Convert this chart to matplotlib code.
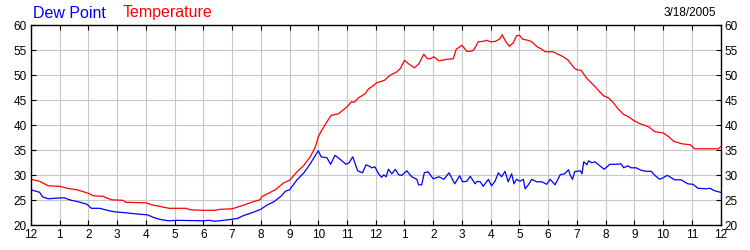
import matplotlib
matplotlib.use('Agg')
import matplotlib.pyplot as plt

plt.rcParams['font.family'] = ['Liberation Sans', 'DejaVu Sans']

# hours after midnight and temperature readings (F)
temp_hours = [0.0, 0.3, 0.6, 1.0, 1.26, 1.6, 2.0, 2.17, 2.5, 2.8, 3.2, 3.3, 4.0, 4.2,
              4.55, 4.8, 5.4, 5.55, 6.0, 6.4, 6.6, 7.0, 7.38, 7.73, 7.97, 8.05, 8.2,
              8.5, 8.8, 9.0, 9.26, 9.5, 9.72, 9.9, 10.0, 10.1, 10.3, 10.45, 10.7, 11.0,
              11.15, 11.25, 11.4, 11.63, 11.75, 11.86, 12.03, 12.3, 12.5, 12.73, 12.85,
              13.0, 13.14, 13.35, 13.5, 13.67, 13.8, 13.9, 14.02, 14.2, 14.48, 14.7,
              14.8, 15.0, 15.17, 15.3, 15.4, 15.57, 15.74, 15.86, 16.0, 16.17, 16.32,
              16.4, 16.52, 16.65, 16.79, 16.9, 17.0, 17.12, 17.3, 17.43, 17.62, 17.78,
              17.9, 18.17, 18.35, 18.53, 18.7, 18.9, 19.0, 19.15, 19.33, 19.62, 19.8,
              19.93, 20.1, 20.27, 20.45, 20.62, 20.8, 20.97, 21.2, 21.5, 21.72, 22.0,
              22.2, 22.37, 22.66, 22.95, 23.1, 23.45, 23.93, 24.0]
temp_values = [29.2, 28.8, 27.9, 27.8, 27.4, 27.1, 26.4, 25.9, 25.8, 25.1, 25.0, 24.6,
               24.5, 24.1, 23.7, 23.4, 23.4, 23.1, 23.0, 23.0, 23.2, 23.3, 24.0, 24.7,
               25.1, 25.8, 26.2, 27.1, 28.5, 29.0, 30.7, 32.0, 33.7, 35.7, 37.7, 38.8,
               40.7, 42.0, 42.3, 43.7, 44.7, 44.6, 45.5, 46.3, 47.3, 47.7, 48.5, 49.0,
               50.0, 50.7, 51.3, 53.0, 52.3, 51.5, 52.3, 54.2, 53.3, 53.3, 53.7, 52.9,
               53.2, 53.3, 55.2, 56.0, 54.8, 54.8, 55.0, 56.7, 56.8, 57.0, 56.7, 56.8,
               57.3, 58.1, 56.8, 55.8, 56.5, 57.9, 58.0, 57.2, 57.0, 56.7, 55.7, 55.2,
               54.7, 54.7, 54.2, 53.7, 53.0, 51.5, 51.1, 51.0, 49.5, 47.8, 46.7, 45.9,
               45.5, 44.5, 43.2, 42.2, 41.7, 41.0, 40.3, 39.7, 38.7, 38.5, 37.7, 36.8,
               36.3, 36.1, 35.3, 35.3, 35.3, 35.7]

# hours after midnight and dew point readings (F)
dew_hours = [0.0, 0.3, 0.4, 0.6, 0.8, 1.15, 1.4, 1.65, 1.95, 2.1, 2.4, 2.65, 2.9, 3.3,
             3.8, 4.05, 4.3, 4.55, 4.8, 5.05, 5.97, 6.2, 6.4, 7.0, 7.2, 7.38, 7.73, 8.0,
             8.2, 8.45, 8.7, 8.85, 9.0, 9.26, 9.5, 9.72, 9.9, 10.0, 10.1, 10.3, 10.43,
             10.58, 10.78, 10.96, 11.07, 11.2, 11.37, 11.54, 11.66, 11.78, 11.86, 11.97,
             12.1, 12.2, 12.28, 12.36, 12.44, 12.56, 12.68, 12.8, 12.91, 13.08, 13.25,
             13.43, 13.49, 13.6, 13.69, 13.82, 14.0, 14.2, 14.37, 14.55, 14.75, 14.92,
             15.02, 15.17, 15.29, 15.46, 15.53, 15.64, 15.74, 15.92, 16.03, 16.15, 16.27,
             16.38, 16.5, 16.61, 16.73, 16.81, 16.9, 17.02, 17.14, 17.2, 17.31, 17.43,
             17.6, 17.78, 17.95, 18.07, 18.24, 18.42, 18.57, 18.71, 18.77, 18.85, 18.92,
             19.0, 19.12, 19.18, 19.24, 19.35, 19.41, 19.52, 19.63, 19.8, 19.95, 20.15,
             20.37, 20.54, 20.63, 20.77, 20.89, 21.06, 21.24, 21.41, 21.59, 21.71, 21.88,
             22.0, 22.15, 22.4, 22.63, 22.86, 23.04, 23.22, 23.51, 23.63, 23.8, 24.0]
dew_values = [27.1, 26.6, 25.7, 25.3, 25.4, 25.5, 25.0, 24.7, 24.2, 23.4, 23.4, 23.0,
              22.7, 22.5, 22.2, 22.1, 21.5, 21.1, 20.9, 21.0, 20.9, 21.0, 20.8, 21.2,
              21.4, 21.9, 22.6, 23.2, 24.0, 24.7, 25.8, 26.8, 27.1, 29.1, 30.5, 32.3,
              34.0, 34.9, 33.7, 33.5, 32.2, 34.0, 33.1, 32.2, 32.5, 33.7, 30.9, 30.5,
              32.1, 31.8, 31.5, 31.7, 30.3, 29.6, 30.1, 29.7, 31.2, 30.3, 31.2, 30.1,
              30.0, 30.9, 29.7, 29.2, 28.1, 28.1, 30.5, 30.7, 29.3, 29.7, 29.2, 30.5,
              28.3, 29.9, 28.7, 28.8, 29.8, 28.3, 28.8, 28.7, 27.8, 29.2, 27.9, 28.8,
              30.5, 29.7, 30.8, 28.7, 30.3, 28.3, 29.2, 28.8, 29.2, 27.3, 28.1, 29.2,
              28.7, 28.7, 28.2, 29.2, 28.1, 30.1, 30.3, 31.1, 30.0, 29.2, 30.7, 30.8,
              30.9, 30.3, 32.7, 32.1, 32.9, 32.5, 32.7, 31.9, 31.2, 32.2, 32.2, 32.3,
              31.5, 31.9, 31.5, 31.5, 31.0, 30.8, 30.8, 30.0, 29.2, 29.5, 30.0, 29.1,
              29.1, 28.3, 28.2, 27.4, 27.3, 27.4, 26.9, 26.6]

hour_labels = ['12', '1', '2', '3', '4', '5', '6', '7', '8', '9', '10', '11',
               '12', '1', '2', '3', '4', '5', '6', '7', '8', '9', '10', '11', '12']
y_ticks = [20, 25, 30, 35, 40, 45, 50, 55, 60]

fig = plt.figure(figsize=(7.5, 2.5), dpi=100)
ax = fig.add_axes([31 / 750, 24.7 / 250, 689.5 / 750, 200 / 250])

ax.plot(dew_hours, dew_values, color='#0000ff', lw=0.9)
ax.plot(temp_hours, temp_values, color='#ff0000', lw=0.9)

ax.set_xlim(0, 24)
ax.set_ylim(20, 60)
ax.set_xticks(range(25))
ax.set_xticklabels(hour_labels)
ax.set_yticks(y_ticks)
ax.grid(True, color='#c8c8c8', lw=0.8)
ax.set_axisbelow(True)

for s in ax.spines.values():
    s.set_color('black')
    s.set_linewidth(1)

# ticks drawn inward on all four sides, labels bottom, left and right
ax.tick_params(axis='x', direction='in', length=3.5, width=0.8,
               labelsize=8.5, pad=3, top=True)
ax.tick_params(axis='y', direction='in', length=3.5, width=0.8, labelsize=8.5,
               pad=3, right=True, labelright=True, left=True)

fig.text(33 / 750, 0.93, 'Dew Point', color='#0000ff', fontsize=11.5,
         va='baseline', ha='left')
fig.text(123 / 750, 0.93, 'Temperature', color='#ff0000', fontsize=11.5,
         va='baseline', ha='left')
fig.text(716.5 / 750, 0.937, '3/18/2005', color='black', fontsize=8.5,
         va='baseline', ha='right')

fig.savefig('out.png', dpi=100)
